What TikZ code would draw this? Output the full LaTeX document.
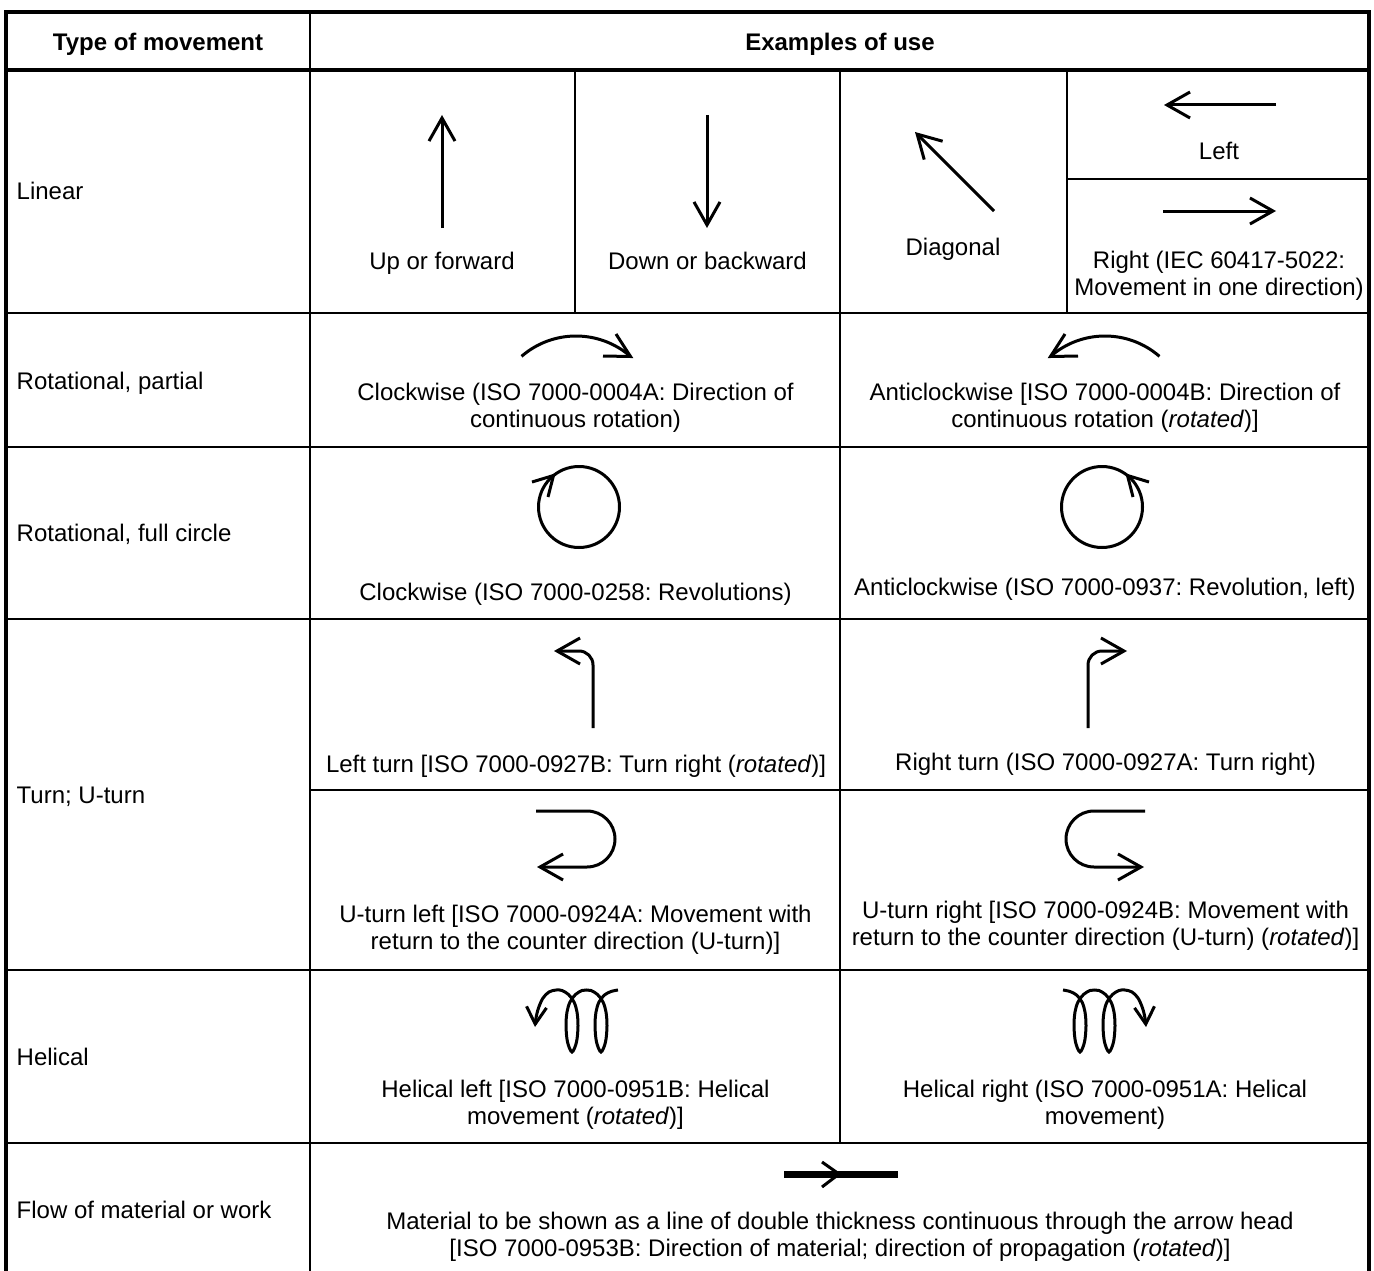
\documentclass[tikz,border=0pt]{standalone}
\usepackage{fontspec}
\setmainfont{Liberation Sans}
\frenchspacing
\usetikzlibrary{arrows.meta}
\tikzset{
  outer/.style={line width=3.5pt, line join=miter},
  rowline/.style={line width=2.5pt},
  cellline/.style={line width=2pt},
  sym/.style={line width=3pt},
  head/.style={line width=3pt, line join=miter},
  arr/.style={sym, -{Straight Barb[length=23pt,width=26pt]}},
  arrsmall/.style={sym, -{Straight Barb[length=17pt,width=20pt]}},
  txt/.style={inner sep=0pt, font=\fontsize{24pt}{27pt}\selectfont, align=center},
  hdr/.style={inner sep=0pt, font=\fontsize{24pt}{27pt}\selectfont\bfseries, anchor=base},
  lbl/.style={inner sep=0pt, font=\fontsize{24pt}{27pt}\selectfont, anchor=base west},
}
\newcommand\mirrorsyms{%
  % partial rotation
  \draw[sym] ([shift={(-131:83)}]576,419) arc[start angle=-131,end angle=-49,radius=83];
  \draw[head] (616,334) -- (630.5,356.5) -- (603,356);
  % full circle
  \draw[sym] (579,507) circle[radius=40.5];
  \draw[head] (532,482) -- (553.5,475.5) -- (548,497);
  % turn
  \draw[arr, rounded corners=14pt] (593,728) |- (554,651);
  % U-turn
  \draw[arr] (536,811) -- (587,811) arc[start angle=-90,end angle=90,radius=28] -- (537,867);
  % helical
  \draw[arrsmall] plot[smooth, tension=0.55] coordinates {
    (618,990) (611,991.5) (604.5,995) (599,1002) (596,1012) (595,1026) (596.5,1042)
    (601,1052) (605.5,1042) (607,1026) (606,1012) (603,1002) (597.5,994.5) (591,990.5)
    (586.5,990) (582,990.5) (575.5,994.5) (570,1002) (567,1012) (566,1026) (567.5,1042)
    (572,1052) (576.5,1042) (578,1026) (577,1012) (574,1002) (568.5,994.5) (562,990.5)
    (556,990) (549,992) (543,998) (538.5,1008) (536,1018) (535,1027)};
}
\begin{document}
\begin{tikzpicture}[x=1pt,y=-1pt]
\useasboundingbox (0,0) rectangle (1374,1271);
% table
\draw[outer] (6,1271) -- (6,12) -- (1369,12) -- (1369,1271);
\draw[outer] (6,70) -- (1369,70);
\draw[rowline] (310,12) -- (310,1271);
\draw[rowline] (6,313) -- (1369,313);
\draw[rowline] (6,447) -- (1369,447);
\draw[rowline] (6,619) -- (1369,619);
\draw[rowline] (310,790) -- (1369,790);
\draw[rowline] (6,970) -- (1369,970);
\draw[rowline] (6,1143) -- (1369,1143);
\draw[cellline] (575,70) -- (575,313);
\draw[cellline] (840,70) -- (840,1143);
\draw[cellline] (1067,70) -- (1067,313);
\draw[cellline] (1067,179) -- (1369,179);
% headers
\node[hdr] (h1) at (158,50.5) {Type of movement};
\node[hdr] (h2) at (840,50.5) {Examples of use};
% row labels
\node[lbl] (l1) at (16.5,200) {Linear};
\node[lbl] (l2) at (16.5,389) {Rotational, partial};
\node[lbl] (l3) at (16.5,541.5) {Rotational, full circle};
\node[lbl] (l4) at (16.5,803) {Turn; U-turn};
\node[lbl] (l5) at (16.5,1065) {Helical};
\node[lbl] (l6) at (16.5,1218.5) {Flow of material or work};
% linear
\coordinate (upA) at (442,228); \coordinate (upB) at (442,115);
\draw[arr] (upA) -- (upB);
\coordinate (dnA) at (707,115); \coordinate (dnB) at (707,228);
\draw[arr] (dnA) -- (dnB);
\coordinate (dgA) at (994,211); \coordinate (dgB) at (915,132);
\draw[arr] (dgA) -- (dgB);
\coordinate (ltA) at (1276,105); \coordinate (ltB) at (1164,105);
\draw[arr] (ltA) -- (ltB);
\coordinate (rtA) at (1163,211); \coordinate (rtB) at (1276,211);
\draw[arr] (rtA) -- (rtB);
\node[txt, anchor=base] (t1) at (442,269) {Up or forward};
\node[txt, anchor=base] (t2) at (707.5,269) {Down or backward};
\node[txt, anchor=base] (t3) at (953,255) {Diagonal};
\node[txt, anchor=base] (t4) at (1219,160) {Left};
\node[txt] (t5) at (1219,276) {Right (IEC 60417-5022:\\Movement in one direction)};
% mirrored symbol pairs
\mirrorsyms
\begin{scope}[xshift=1681pt, xscale=-1]
\mirrorsyms
\end{scope}
\node[txt] (t6) at (575.5,407.5) {Clockwise (ISO 7000-0004A: Direction of\\continuous rotation)};
\node[txt] (t7) at (1105,407.5) {Anticlockwise [ISO 7000-0004B: Direction of\\continuous rotation (\textit{rotated})]};
\node[txt, anchor=base] (t8) at (575.5,600) {Clockwise (ISO 7000-0258: Revolutions)};
\node[txt, anchor=base] (t9) at (1105,595) {Anticlockwise (ISO 7000-0937: Revolution, left)};
\node[txt, anchor=base] (t10) at (576,772) {Left turn [ISO 7000-0927B: Turn right (\textit{rotated})]};
\node[txt, anchor=base] (t11) at (1105.5,770) {Right turn (ISO 7000-0927A: Turn right)};
\node[txt] (t12) at (575.5,930) {U-turn left [ISO 7000-0924A: Movement with\\return to the counter direction (U-turn)]};
\node[txt] (t13) at (1105.5,926) {U-turn right [ISO 7000-0924B: Movement with\\return to the counter direction (U-turn) (\textit{rotated})]};
\node[txt] (t14) at (575.5,1104.5) {Helical left [ISO 7000-0951B: Helical\\movement (\textit{rotated})]};
\node[txt] (t15) at (1105,1104.5) {Helical right (ISO 7000-0951A: Helical\\movement)};
% flow
\coordinate (fA) at (784,1174); \coordinate (fB) at (898,1174);
\draw[line width=7pt] (fA) -- (fB);
\coordinate (fU) at (822,1162); \coordinate (fT) at (839,1174); \coordinate (fD) at (822,1187);
\draw[head] (fU) -- (fT) -- (fD);
\node[txt] (t16) at (840,1237) {Material to be shown as a line of double thickness continuous through the arrow head\\{[}ISO 7000-0953B: Direction of material; direction of propagation (\textit{rotated})]};
\end{tikzpicture}
\end{document}
